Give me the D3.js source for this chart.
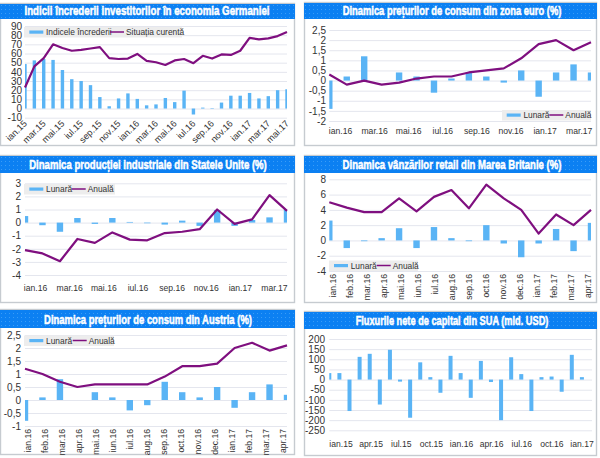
<!DOCTYPE html>
<html><head><meta charset="utf-8">
<script src="https://cdnjs.cloudflare.com/ajax/libs/d3/7.8.5/d3.min.js"></script>
<style>
html,body{margin:0;padding:0;background:#fff}
svg{display:block}
text{font-family:"Liberation Sans",Arial,sans-serif}
</style></head><body><svg id="c" width="600" height="458"></svg>
<script>
const months16 = ["ian.16","feb.16","mar.16","apr.16","mai.16","iun.16","iul.16","aug.16","sep.16","oct.16","nov.16","dec.16","ian.17","feb.17","mar.17","apr.17"];
const months15 = ["ian.15","feb.15","mar.15","apr.15","mai.15","iun.15","iul.15","aug.15","sep.15","oct.15","nov.15","dec.15"];
const germanyCats = months15.concat(months16, ["mai.17"]);
const germanyBars = [48.5,52.5,54,53,42,32,30,25.5,12.5,2.5,11,16.5,10.5,3.5,4.5,11.5,7,19.5,-6.5,1,0.5,6.5,14,14,17,11,13.5,20,21];
const germanyLine = [23,46,55,70,66,63,64,65.5,67,55,54,54.5,59.5,52,50.5,47.5,52.5,54,49.5,57.5,54.5,59,58.5,63,77,75.5,76.5,79,83.5];
const germanyTicks = [90,80,70,60,50,40,30,20,10,0,-10];
const euroBars = [-1.4,0.2,1.2,0,0.4,0.2,-0.6,0.1,0.4,0.2,-0.1,0.5,-0.8,0.4,0.8,0.4];
const euroLine = [0.3,-0.2,0,-0.2,-0.1,0.1,0.2,0.2,0.4,0.5,0.6,1.1,1.8,2,1.5,1.9];
const halfTicks = [2.5,2,1.5,1,0.5,0,-0.5,-1,-1.5,-2];
const usBars = [0.5,-0.2,-0.7,0.35,-0.1,0.35,0.05,-0.05,-0.15,0.15,-0.25,0.95,-0.25,0.2,0.4,1];
const usLine = [-2.1,-2.35,-2.95,-1.25,-1.55,-0.75,-1.3,-1.35,-0.8,-0.7,-0.5,1,-0.1,0.25,2.1,0.9];
const usTicks = [3,2,1,0,-1,-2,-3,-4];
const ukBars = [2.6,-1,-0.1,0.3,1.6,-1,1.75,0.3,-0.1,2,-0.4,-2.2,-0.4,1.5,-1.4,2.3];
const ukLine = [5,4.3,3.7,3.7,5.5,3.8,5.7,6.6,4.2,7.3,5.5,4,0.9,3.4,2,4];
const ukTicks = [8,6,4,2,0,-2,-4];
const atBars = [-0.8,0.1,0.8,0,0.3,0.1,-0.4,-0.2,0.7,0.3,0.1,0.5,-0.3,0.3,0.6,0.2];
const atLine = [1.2,1,0.7,0.5,0.6,0.6,0.6,0.6,0.9,1.3,1.3,1.4,2,2.2,1.9,2.1];
const atTicks = [2.5,2,1.5,1,0.5,0,-0.5,-1];
const flowCats = months15.concat(months16.slice(0,12), ["ian.17","feb.17","mar.17"]);
const flowBars = [32,32,-155,112,127,-123,147,-10,-188,85,12,-65,117,32,-90,92,-12,-200,110,27,-155,12,15,-60,122,12];
const flowTicks = [200,150,100,50,0,-50,-100,-150,-200,-250];

const svg = d3.select("#c");
const fmt = v => String(v).replace(".", ",");
const BLUE="#5ab4f5", PURPLE="#7f0f7f";

const defs = svg.append("defs");
const pat = defs.append("pattern").attr("id","dots").attr("width",4).attr("height",4).attr("patternUnits","userSpaceOnUse");
pat.append("rect").attr("width",4).attr("height",4).attr("fill","#0c80f2");
pat.append("rect").attr("width",1).attr("height",1).attr("x",1).attr("y",1).attr("fill","#3a9cf6");

function panel(o, idx){
  const g = svg.append("g");
  g.append("rect").attr("x",o.box[0]+.5).attr("y",o.box[1]+.5).attr("width",o.box[2]-o.box[0]-1).attr("height",o.box[3]-o.box[1]-1)
    .attr("fill","#fff").attr("stroke","#c6cbd0").attr("stroke-width",1.4);
  g.append("rect").attr("x",o.box[0]).attr("y",o.box[1]+1).attr("width",o.box[2]-o.box[0]).attr("height",o.head-o.box[1]-1).attr("fill","url(#dots)");
  const t = g.append("text").text(o.title)
    .attr("text-anchor","middle")
    .attr("font-family","'Liberation Sans Narrow','Liberation Sans'").attr("font-weight","700").attr("font-size",13.5).attr("fill","#fff")
    .attr("stroke","#fff").attr("stroke-width",.55);
  const natural = t.node().getComputedTextLength();
  t.attr("transform",`translate(${o.tx},${o.head-4.5}) scale(${o.tw/natural},1)`);

  const x = d3.scalePoint().domain(o.cats).range(o.xr);
  const y = d3.scaleLinear().domain([o.ticks[o.ticks.length-1],o.ticks[0]]).range(o.yr);
  const gg = d3.axisLeft(y).tickValues(o.ticks).tickSize(-(o.xr[1]-o.xr[0])).tickFormat("");
  const gr = g.append("g").attr("transform",`translate(${o.xr[0]},0)`).call(gg);
  gr.select(".domain").remove();
  gr.selectAll("line").attr("stroke","#e4e6ee").attr("stroke-width",1);
  const ya = d3.axisLeft(y).tickValues(o.ticks).tickFormat(fmt).tickSize(0).tickPadding(o.xr[0]-o.yl);
  const gy = g.append("g").attr("transform",`translate(${o.xr[0]},0)`).call(ya);
  gy.select(".domain").remove();
  gy.selectAll("text").attr("font-size",10).attr("font-family","'Liberation Sans',Arial,sans-serif").attr("fill","#333");

  const cid="clip"+idx;
  defs.append("clipPath").attr("id",cid).append("rect").attr("x",o.xr[0]).attr("y",o.yr[1]-3).attr("width",o.xr[1]-o.xr[0]).attr("height",o.yr[0]-o.yr[1]+6);
  g.append("g").attr("clip-path",`url(#${cid})`).selectAll("rect").data(o.bars).join("rect")
    .attr("x",(d,i)=>x(o.cats[i])-o.bw/2).attr("width",o.bw)
    .attr("y",d=>Math.min(y(d),y(0))).attr("height",d=>Math.abs(y(d)-y(0))).attr("fill",BLUE);
  if(o.line){
    g.append("path").datum(o.line).attr("fill","none").attr("stroke",PURPLE).attr("stroke-width",2.2).attr("stroke-linejoin","round")
      .attr("d",d3.line().x((d,i)=>x(o.cats[i])).y(d=>y(d)));
  }
  const labs = o.cats.filter((c,i)=>i%o.every===0 && (!o.maxLab || i/o.every<o.maxLab));
  const lx = d3.scalePoint().domain(labs).range(o.lr);
  const xa = d3.axisBottom(lx).tickSize(0).tickPadding(0);
  const gx = g.append("g").attr("transform",`translate(0,${o.ly})`).call(xa);
  gx.select(".domain").remove();
  gx.selectAll("text").attr("font-size",o.xfs||8.6).attr("font-family","'Liberation Sans',Arial,sans-serif").attr("fill","#333").attr("y",0).attr("x",0).attr("dy","0.32em");
  if(o.rot) gx.selectAll("text").attr("transform",`rotate(${o.rot})`).attr("text-anchor","end");
  if(o.leg){
    const L=o.leg, l=g.append("g");
    l.append("rect").attr("x",L.x).attr("y",L.y).attr("width",L.w).attr("height",10.5).attr("fill","#ededed");
    l.append("rect").attr("x",L.x+L.a).attr("y",L.y+3.5).attr("width",14).attr("height",3.2).attr("fill",BLUE);
    l.append("text").text(L.n1).attr("x",L.x+L.a+16.7).attr("y",L.y+8.2).attr("font-size",8.4).attr("fill","#333");
    l.append("line").attr("x1",L.x+L.b).attr("x2",L.x+L.b+14).attr("y1",L.y+5).attr("y2",L.y+5).attr("stroke",PURPLE).attr("stroke-width",1.5);
    l.append("text").text(L.n2).attr("x",L.x+L.b+16).attr("y",L.y+8.2).attr("font-size",8.4).attr("fill","#333");
  }
}

const panels = [
 {box:[0,3,295,146],head:19,title:"Indicii încrederii investitorilor în economia Germaniei",tx:147,tw:245,
  cats:germanyCats,bars:germanyBars,line:germanyLine,ticks:germanyTicks,xr:[25,287],yr:[117.7,26],yl:22,bw:3.4,
  every:2,lr:[25,287],ly:122,rot:-45,xfs:9.2,leg:{x:24,y:27,w:158,a:5.3,b:86,n1:"Indicele încrederii",n2:"Situația curentă"}},
 {box:[304,2,597,146],head:19,title:"Dinamica prețurilor de consum din zona euro (%)",tx:452,tw:219,
  cats:months16,bars:euroBars,line:euroLine,ticks:halfTicks,xr:[329.3,591],yr:[121,30],yl:326,bw:6.4,
  every:2,lr:[340,578.7],ly:131,leg:{x:502,y:110,w:89,a:4.7,b:47.3,n1:"Lunară",n2:"Anuală"}},
 {box:[0,155,295,303],head:173,title:"Dinamica producției industriale din Statele Unite (%)",tx:148,tw:238,
  cats:months16,bars:usBars,line:usLine,ticks:usTicks,xr:[25,287],yr:[275,183.3],yl:21,bw:6.4,
  every:2,lr:[35,274],ly:288.5,leg:{x:24,y:184,w:91,a:5.3,b:47.7,n1:"Lunară",n2:"Anuală"}},
 {box:[304,155,597,303],head:173,title:"Dinamica vânzărilor retail din Marea Britanie (%)",tx:452,tw:219,
  cats:months16,bars:ukBars,line:ukLine,ticks:ukTicks,xr:[329.3,591],yr:[271,179.3],yl:326,bw:6.4,
  every:1,lr:[332.5,587.5],ly:274,rot:-90,leg:{x:329,y:260.5,w:89,a:5,b:47.7,n1:"Lunară",n2:"Anuală"}},
 {box:[0,309,295,455],head:328,title:"Dinamica prețurilor de consum din Austria (%)",tx:148,tw:208,
  cats:months16,bars:atBars,line:atLine,ticks:atTicks,xr:[25,287],yr:[426,335],yl:21,bw:6.4,
  every:1,lr:[27.5,282.5],ly:429,rot:-90,leg:{x:24,y:335.5,w:90,a:5.3,b:48.7,n1:"Lunară",n2:"Anuală"}},
 {box:[304,311,597,456],head:329,title:"Fluxurile nete de capital din SUA (mld. USD)",tx:452,tw:193,
  cats:flowCats,bars:flowBars,line:null,ticks:flowTicks,xr:[329.3,592],yr:[430.3,339],yl:325,bw:4,
  every:3,maxLab:9,lr:[340.5,581.5],ly:444.5}
];
panels.forEach(panel);
</script></body></html>
